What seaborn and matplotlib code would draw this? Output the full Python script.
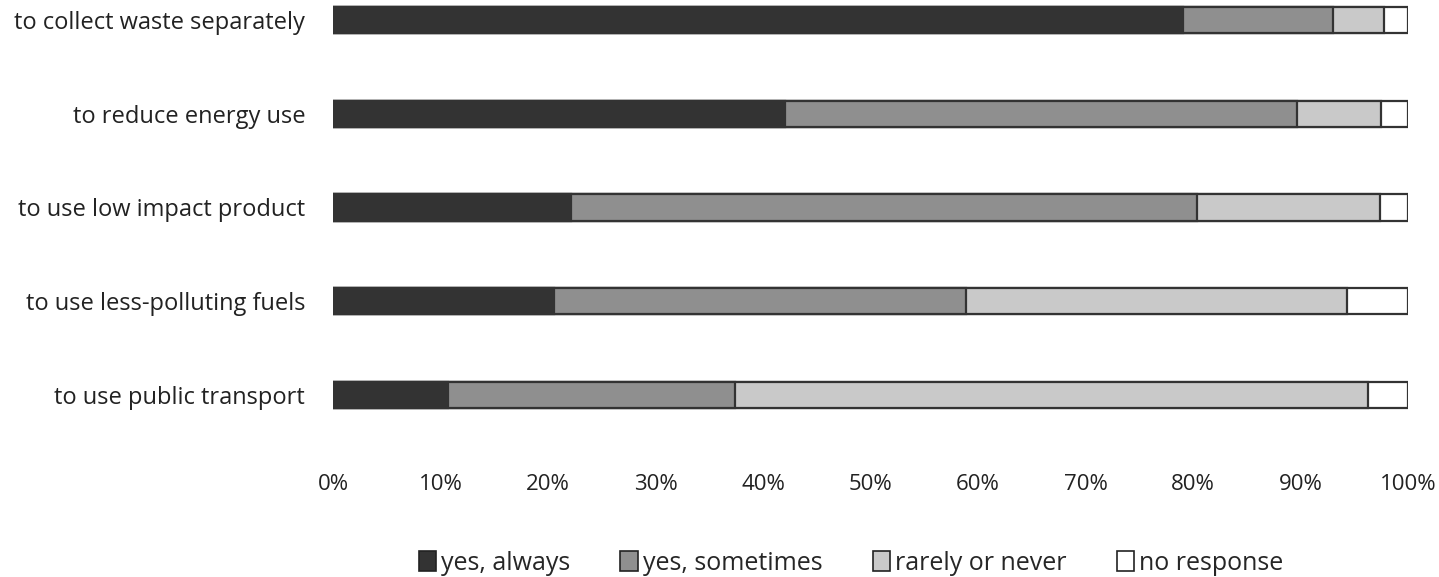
import numpy as np
import pandas as pd
import matplotlib
matplotlib.use('Agg')
import matplotlib.pyplot as plt
import seaborn as sns
from matplotlib.patches import Patch

# done yo (pousantaj)
categories = ['to collect waste separately', 'to reduce energy use', 'to use low impact product',
              'to use less-polluting fuels', 'to use public transport']
always = [79.1, 42.0, 22.1, 20.6, 10.7]
sometimes = [13.9, 47.7, 58.3, 38.3, 26.7]
rarely = [4.8, 7.8, 17.0, 35.4, 58.9]
no_resp = [2.2, 2.5, 2.6, 5.7, 3.7]
series_names = ['yes, always', 'yes, sometimes', 'rarely or never', 'no response']
colors = ['#333333', '#8f8f8f', '#c9c9c9', '#ffffff']
ticks = [0, 10, 20, 30, 40, 50, 60, 70, 80, 90, 100]

sns.set_style('white')
plt.rcParams['font.family'] = ['Open Sans', 'DejaVu Sans']

df = pd.DataFrame({'category': categories, 'always': always, 'sometimes': sometimes,
                   'rarely': rarely, 'none': no_resp})
cols = ['always', 'sometimes', 'rarely', 'none']
cum = df[cols].cumsum(axis=1)
cum['category'] = df['category']

fig = plt.figure(figsize=(14.39, 5.77), dpi=100)
ax = fig.add_axes([333 / 1439, 1 - 455 / 577, 1075 / 1439, 455 / 577])

# trase ba yo soti nan pi long lan pou rive nan pi kout la (stacked)
for col, c in zip(reversed(cols), reversed(colors)):
    sns.barplot(data=cum, x=col, y='category', order=categories, color=c,
                width=0.28, orient='h', edgecolor='#333333', linewidth=1.6,
                saturation=1, ax=ax)

ax.set_xlim(0, 100)
ax.set_ylim(4.64, -0.213)
ax.set_xticks(ticks)
ax.set_xticklabels([f'{t}%' for t in ticks])
ax.set_xlabel('')
ax.set_ylabel('')
ax.tick_params(axis='both', length=0, colors='#222222')
ax.tick_params(axis='x', pad=14, labelsize=16)
ax.tick_params(axis='y', pad=20, labelsize=17)
for s in ax.spines.values():
    s.set_visible(False)

handles = [Patch(facecolor=c, edgecolor='#222222', linewidth=1.2) for c in colors]
fig.legend(handles, series_names, loc='center', bbox_to_anchor=(851 / 1439, 1 - 563 / 577),
           ncol=4, frameon=False, fontsize=18, handlelength=0.7, handleheight=0.9,
           handletextpad=0.2, columnspacing=2.0)

fig.savefig('out.png', dpi=100)
